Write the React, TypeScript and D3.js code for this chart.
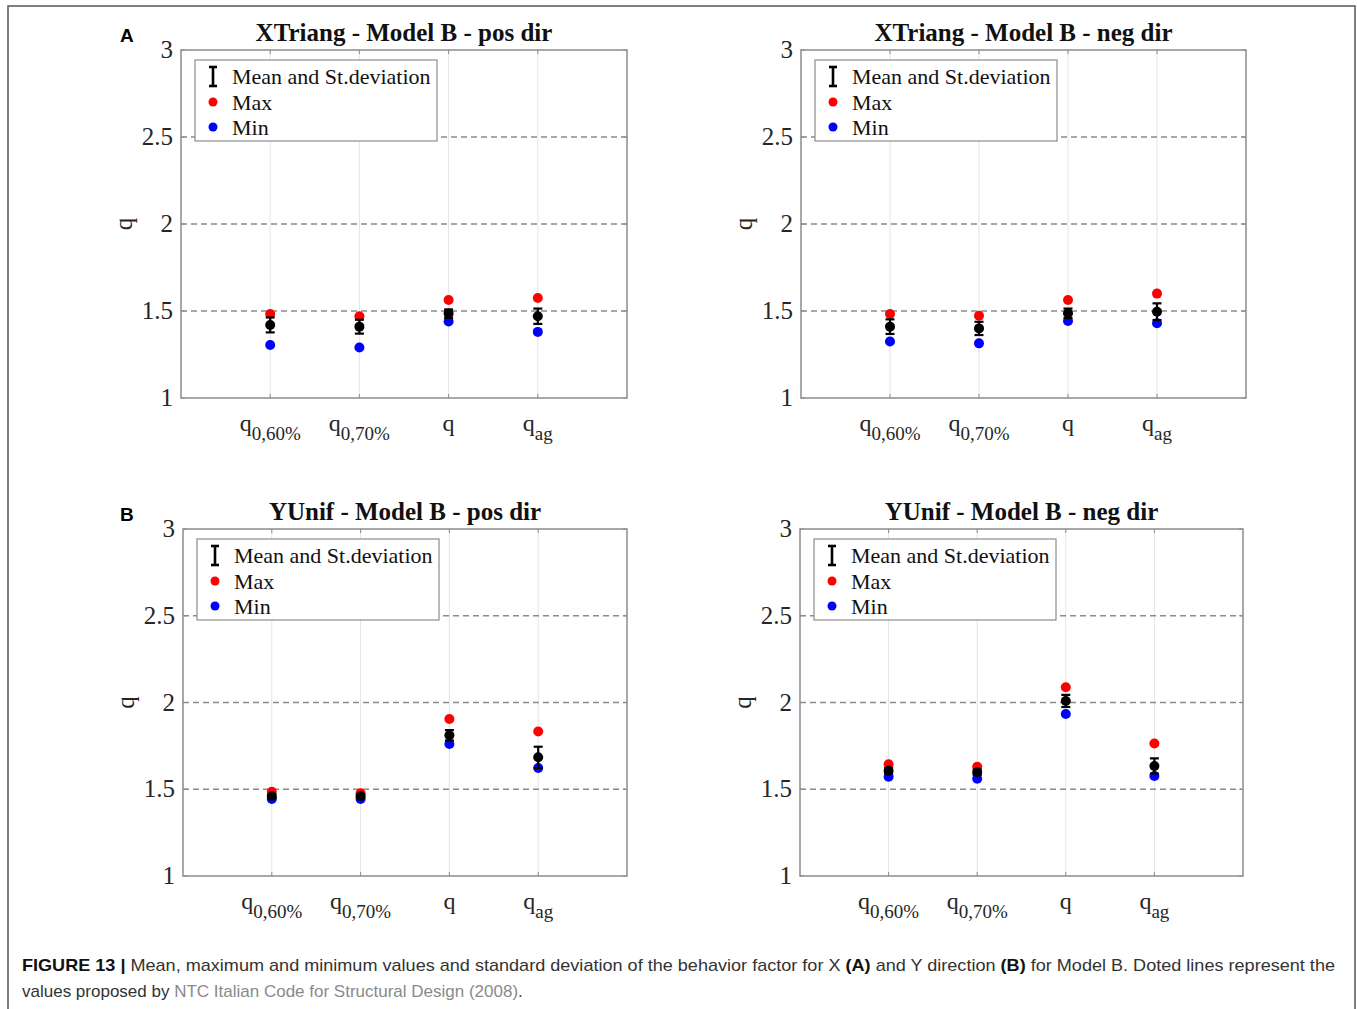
import React from "react";
import * as d3 from "d3";

// category subscripts on the x axis (all are "q" with a subscript)
const categories = ["0,60%", "0,70%", "", "ag"];
const yTicks = [1, 1.5, 2, 2.5, 3];
const refLines = [1.5, 2, 2.5];

// XTriang - Model B - pos dir
const xPosMean = [1.42, 1.41, 1.485, 1.47];
const xPosStd = [0.043, 0.04, 0.024, 0.044];
const xPosMax = [1.483, 1.47, 1.563, 1.575];
const xPosMin = [1.305, 1.29, 1.44, 1.38];

// XTriang - Model B - neg dir
const xNegMean = [1.41, 1.4, 1.487, 1.496];
const xNegStd = [0.042, 0.038, 0.027, 0.048];
const xNegMax = [1.483, 1.473, 1.563, 1.6];
const xNegMin = [1.325, 1.314, 1.443, 1.43];

// YUnif - Model B - pos dir
const yPosMean = [1.46, 1.46, 1.811, 1.684];
const yPosStd = [0.01, 0.01, 0.03, 0.061];
const yPosMax = [1.486, 1.477, 1.905, 1.833];
const yPosMin = [1.444, 1.444, 1.761, 1.622];

// YUnif - Model B - neg dir
const yNegMean = [1.607, 1.598, 2.009, 1.634];
const yNegStd = [0.015, 0.015, 0.035, 0.044];
const yNegMax = [1.644, 1.63, 2.088, 1.764];
const yNegMin = [1.572, 1.561, 1.934, 1.576];

const serif = "'Liberation Serif', 'Times New Roman', serif";
const sans = "'Liberation Sans', Arial, sans-serif";

type PanelProps = {
  title: string;
  left: number;
  top: number;
  right: number;
  bottom: number;
  mean: number[];
  std: number[];
  max: number[];
  min: number[];
};

const Panel = ({ title, left, top, right, bottom, mean, std, max, min }: PanelProps) => {
  const x = d3.scaleLinear().domain([0, 5]).range([left, right]);
  const y = d3.scaleLinear().domain([1, 3]).range([bottom, top]);
  const cx = (i: number) => x(i + 1);
  const lgX = left + 14;
  const lgY = top + 10;

  return (
    <g>
      {/* vertical grid */}
      {categories.map((c, i) => (
        <line key={"g" + i} x1={cx(i)} x2={cx(i)} y1={top} y2={bottom} stroke="#e4e4e4" strokeWidth={1} />
      ))}
      {/* dashed reference values */}
      {refLines.map((v) => (
        <line key={"r" + v} x1={left} x2={right} y1={y(v)} y2={y(v)} stroke="#8a8a8a" strokeWidth={1.5} strokeDasharray="6,4" />
      ))}
      {/* box */}
      <rect x={left} y={top} width={right - left} height={bottom - top} fill="none" stroke="#8c8c8c" strokeWidth={1.5} />
      {/* ticks */}
      {categories.map((c, i) => (
        <g key={"t" + i}>
          <line x1={cx(i)} x2={cx(i)} y1={bottom} y2={bottom - 4} stroke="#8c8c8c" />
          <line x1={cx(i)} x2={cx(i)} y1={top} y2={top + 4} stroke="#8c8c8c" />
        </g>
      ))}
      {yTicks.map((v) => (
        <g key={"yt" + v}>
          <line x1={left} x2={left + 4} y1={y(v)} y2={y(v)} stroke="#8c8c8c" />
          <line x1={right} x2={right - 4} y1={y(v)} y2={y(v)} stroke="#8c8c8c" />
          <text x={left - 8} y={y(v) + 8} textAnchor="end" fontFamily={serif} fontSize={25} fill="#262626">
            {v}
          </text>
        </g>
      ))}
      {/* x labels */}
      {categories.map((c, i) => (
        <text key={"xl" + i} x={cx(i)} y={bottom + 33} textAnchor="middle" fontFamily={serif} fill="#262626">
          <tspan fontSize={24}>q</tspan>
          {c && (
            <tspan fontSize={19} dy={9}>
              {c}
            </tspan>
          )}
        </text>
      ))}
      {/* y label */}
      <text
        transform={`translate(${left - 49},${(top + bottom) / 2}) rotate(-90)`}
        textAnchor="middle"
        fontFamily={serif}
        fontSize={25}
        fill="#262626"
      >
        q
      </text>
      {/* title */}
      <text x={(left + right) / 2} y={top - 9} textAnchor="middle" fontFamily={serif} fontWeight="bold" fontSize={25} fill="#111">
        {title}
      </text>
      {/* legend */}
      <rect x={lgX} y={lgY} width={242} height={81} fill="#fff" stroke="#8c8c8c" strokeWidth={1.2} />
      <g stroke="#000" strokeWidth={2.6}>
        <line x1={lgX + 18} x2={lgX + 18} y1={lgY + 7} y2={lgY + 26} />
        <line x1={lgX + 14} x2={lgX + 22} y1={lgY + 7} y2={lgY + 7} />
        <line x1={lgX + 14} x2={lgX + 22} y1={lgY + 26} y2={lgY + 26} />
      </g>
      <circle cx={lgX + 18} cy={lgY + 42} r={4.5} fill="#ff0000" />
      <circle cx={lgX + 18} cy={lgY + 67} r={4.5} fill="#0000ff" />
      <g fontFamily={serif} fontSize={22} fill="#111">
        <text x={lgX + 37} y={lgY + 24}>Mean and St.deviation</text>
        <text x={lgX + 37} y={lgY + 50}>Max</text>
        <text x={lgX + 37} y={lgY + 75}>Min</text>
      </g>
      {/* data */}
      {mean.map((m, i) => (
        <g key={"d" + i}>
          <circle cx={cx(i)} cy={y(max[i])} r={5} fill="#ff0000" />
          <circle cx={cx(i)} cy={y(min[i])} r={5} fill="#0000ff" />
          <g stroke="#000" strokeWidth={2.2}>
            <line x1={cx(i)} x2={cx(i)} y1={y(m - std[i])} y2={y(m + std[i])} />
            <line x1={cx(i) - 4.5} x2={cx(i) + 4.5} y1={y(m - std[i])} y2={y(m - std[i])} />
            <line x1={cx(i) - 4.5} x2={cx(i) + 4.5} y1={y(m + std[i])} y2={y(m + std[i])} />
          </g>
          <circle cx={cx(i)} cy={y(m)} r={5} fill="#000" />
        </g>
      ))}
    </g>
  );
};

export default function App() {
  return (
    <svg width={1357} height={1009} style={{ position: "absolute", left: 0, top: 0, background: "#fff" }}>
      <rect x={8} y={6} width={1347} height={1100} fill="none" stroke="#555" strokeWidth={1.5} />
      <text x={120} y={42} fontFamily={sans} fontWeight="bold" fontSize={19} fill="#000">A</text>
      <text x={120} y={521} fontFamily={sans} fontWeight="bold" fontSize={19} fill="#000">B</text>
      <Panel title="XTriang - Model B - pos dir" left={181} top={50} right={627} bottom={398} mean={xPosMean} std={xPosStd} max={xPosMax} min={xPosMin} />
      <Panel title="XTriang - Model B - neg dir" left={801} top={50} right={1246} bottom={398} mean={xNegMean} std={xNegStd} max={xNegMax} min={xNegMin} />
      <Panel title="YUnif - Model B - pos dir" left={183} top={529} right={627} bottom={876} mean={yPosMean} std={yPosStd} max={yPosMax} min={yPosMin} />
      <Panel title="YUnif - Model B - neg dir" left={800} top={529} right={1243} bottom={876} mean={yNegMean} std={yNegStd} max={yNegMax} min={yNegMin} />
      <g fontFamily={sans} fontSize={17} fill="#333">
        <text x={22} y={971} textLength={1313} lengthAdjust="spacingAndGlyphs">
          <tspan fontWeight="bold" fill="#111">FIGURE 13 |</tspan> Mean, maximum and minimum values and standard deviation of the behavior factor for X{" "}
          <tspan fontWeight="bold" fill="#111">(A)</tspan> and Y direction <tspan fontWeight="bold" fill="#111">(B)</tspan> for Model B. Doted
          lines represent the
        </text>
        <text x={22} y={997}>
          values proposed by <tspan fill="#8a8a8a">NTC Italian Code for Structural Design (2008)</tspan>.
        </text>
      </g>
    </svg>
  );
}
